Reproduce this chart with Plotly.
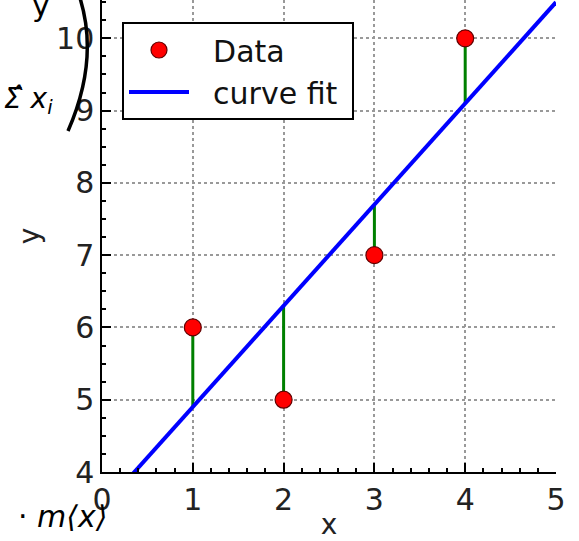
import numpy as np
import plotly.graph_objects as go

# Data
x_data = [1, 2, 3, 4]
y_data = [6, 5, 7, 10]
x_ticks = [0, 1, 2, 3, 4, 5]
y_ticks = [4, 5, 6, 7, 8, 9, 10]

# least squares line fit
m, b = np.polyfit(x_data, y_data, 1)
x_fit = np.linspace(0, 5, 101)
y_fit = m * x_fit + b

# residual segments
rx, ry = [], []
for xi, yi in zip(x_data, y_data):
    rx += [xi, xi, None]
    ry += [yi, m * xi + b, None]

W, H = 579, 541
L, R, T, B = 102, 23, 0, 69
PW, PH = W - L - R, H - T - B

def px(xp):
    return (xp - L) / PW

def py(yp):
    return (H - B - yp) / PH

fig = go.Figure()
fig.add_trace(go.Scatter(x=rx, y=ry, mode="lines", line=dict(color="#008000", width=3),
                         showlegend=False, hoverinfo="skip"))
fig.add_trace(go.Scatter(x=x_data, y=y_data, mode="markers", name="&nbsp;&nbsp;Data",
                         marker=dict(color="#ff0000", size=17, line=dict(color="#600000", width=1.2))))
fig.add_trace(go.Scatter(x=x_fit, y=y_fit, mode="lines", name="&nbsp;&nbsp;curve fit&nbsp;",
                         line=dict(color="#0000ff", width=4)))

axis_common = dict(
    showline=True, linecolor="black", linewidth=1.5,
    ticks="inside", ticklen=9, tickwidth=1.5, tickcolor="black",
    showgrid=True, gridcolor="#999999", griddash="dot", gridwidth=1.5,
    zeroline=False, mirror=False,
    tickfont=dict(family="DejaVu Sans", size=30, color="#222222"),
    title_font=dict(family="DejaVu Sans", size=28, color="#222222"),
)

fig.update_layout(
    width=W, height=H,
    margin=dict(l=L, r=R, t=T, b=B, pad=0),
    paper_bgcolor="white", plot_bgcolor="white",
    xaxis=dict(range=[0, 5], tickvals=x_ticks, title=dict(text="x", standoff=2),
               minor=dict(dtick=0.2, ticks="inside", ticklen=4, tickcolor="black", showgrid=False),
               **axis_common),
    yaxis=dict(range=[4, 10.53], tickvals=y_ticks, title=dict(text="y", standoff=8),
               minor=dict(dtick=0.25, ticks="inside", ticklen=4, tickcolor="black", showgrid=False),
               **axis_common),
    legend=dict(x=px(122), y=py(22), xanchor="left", yanchor="top",
                bgcolor="white", bordercolor="black", borderwidth=2,
                font=dict(family="DejaVu Sans", size=30, color="#111111"),
                itemwidth=60, tracegroupgap=0),
    showlegend=True,
)

hand = dict(family="DejaVu Sans", color="black")
fig.add_annotation(xref="paper", yref="paper", x=px(30), y=py(6), xanchor="left", yanchor="middle",
                   text="y", showarrow=False, font=dict(size=30, **hand))
fig.add_annotation(xref="paper", yref="paper", x=px(28), y=py(100), xanchor="center", yanchor="middle",
                   text="<i>Σ̂ x<sub>i</sub></i>", showarrow=False, font=dict(size=28, **hand))
fig.add_annotation(xref="paper", yref="paper", x=px(62), y=py(516), xanchor="center", yanchor="middle",
                   text="· <i>m⟨x⟩</i>", showarrow=False, font=dict(size=30, **hand))
# hand-drawn closing bracket
x0, x1, xc = px(79), px(68), px(100)
y0, y1, yc = py(-5), py(131), py(58)
fig.add_shape(type="path", xref="paper", yref="paper",
              path=f"M {x0} {y0} Q {xc} {yc} {x1} {y1}",
              line=dict(color="black", width=3.5))

fig.write_html("out.html", config={"displayModeBar": False},
               post_script="document.body.style.margin='0';")
